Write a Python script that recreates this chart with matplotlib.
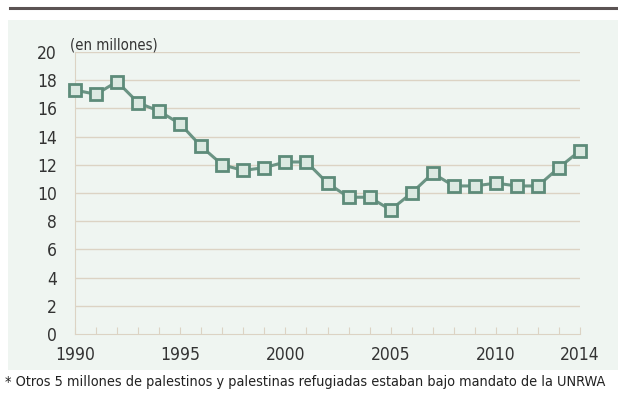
import matplotlib
matplotlib.use('Agg')
import matplotlib.pyplot as plt
from matplotlib.patches import Rectangle
from matplotlib.lines import Line2D

# refugee numbers (millions)
years = [1990, 1991, 1992, 1993, 1994, 1995, 1996, 1997, 1998, 1999, 2000, 2001, 2002,
         2003, 2004, 2005, 2006, 2007, 2008, 2009, 2010, 2011, 2012, 2013, 2014]
refugiados = [17.3, 17.0, 17.9, 16.4, 15.8, 14.9, 13.3, 12.0, 11.6, 11.8, 12.2, 12.2, 10.7,
              9.7, 9.7, 8.8, 10.0, 11.4, 10.5, 10.5, 10.7, 10.5, 10.5, 11.8, 13.0]
xticks = [1990, 1995, 2000, 2005, 2010, 2014]
yticks = list(range(0, 21, 2))

unidad = '(en millones)'
nota = '* Otros 5 millones de palestinos y palestinas refugiadas estaban bajo mandato de la UNRWA'

plt.rcParams['font.family'] = ['DejaVu Sans']
plt.rcParams['font.stretch'] = 'condensed'

W, H = 618, 396
fig = plt.figure(figsize=(W / 100, H / 100), dpi=100)
fig.patch.set_facecolor('white')

# light green panel and the dark rule on top
fig.patches.append(Rectangle((8 / W, 1 - 370 / H), 610 / W, 350 / H,
                             transform=fig.transFigure, facecolor='#eff5f1',
                             edgecolor='none', zorder=-5))
fig.lines.append(Line2D([10 / W, 1], [1 - 8 / H, 1 - 8 / H], transform=fig.transFigure,
                        color='#5b5353', lw=2.2))

ax = fig.add_axes([75 / W, 1 - 334 / H, 505 / W, 282 / H])
ax.set_facecolor('none')

grid_c = '#dcd3c4'
for v in yticks[1:]:
    ax.axhline(v, color=grid_c, lw=1.0, zorder=1)

ax.plot(years, refugiados, color='#6b9484', lw=2.2, marker='s', markersize=8,
        markerfacecolor='#dbe9e1', markeredgecolor='#5d8b79', markeredgewidth=2.0,
        zorder=3, clip_on=False)

ax.set_xlim(1990, 2014)
ax.set_ylim(0, 20)
ax.set_xticks(years)
ax.set_xticklabels([str(y) if y in xticks else '' for y in years])
ax.set_yticks(yticks)

for s in ['top', 'right']:
    ax.spines[s].set_visible(False)
ax.spines['left'].set_color(grid_c)
ax.spines['bottom'].set_color(grid_c)

ax.tick_params(axis='x', direction='in', length=5, color=grid_c, labelsize=12.5,
               labelcolor='#333333', pad=9)
ax.tick_params(axis='y', length=0, labelsize=12.5, labelcolor='#333333', pad=13)

fig.text(70 / W, 1 - 45 / H, unidad, fontsize=10.7, color='#333333', va='center')
fig.text(5 / W, 1 - 382 / H, nota, fontsize=10.4, color='#222222', va='center')

fig.savefig('out.png', dpi=100)
